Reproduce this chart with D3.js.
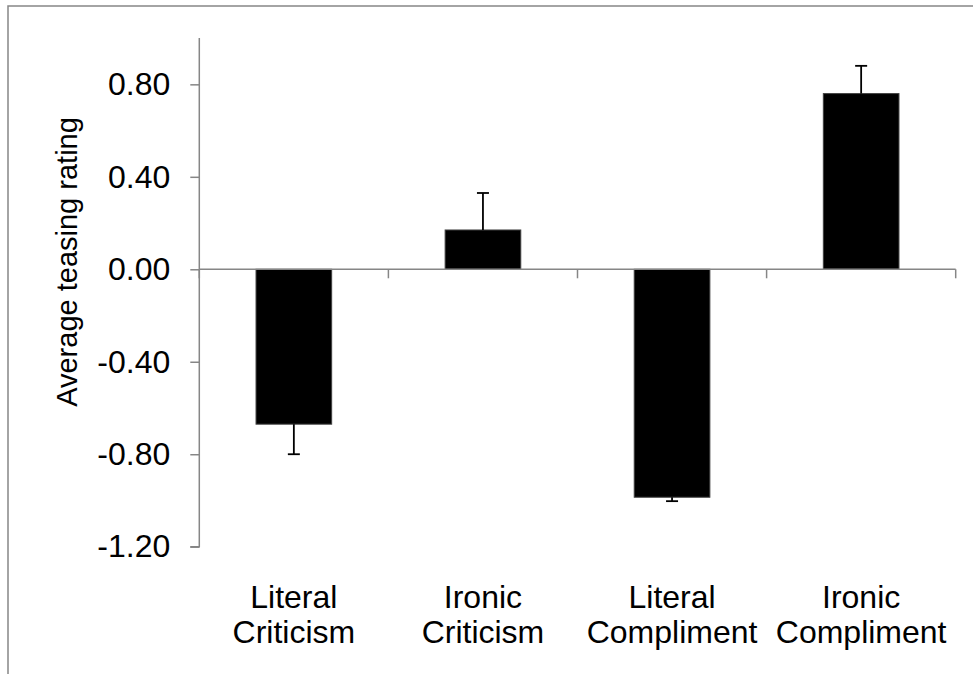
<!DOCTYPE html>
<html>
<head>
<meta charset="utf-8">
<script src="https://cdn.jsdelivr.net/npm/d3@7/dist/d3.min.js"></script>
<style>
  html, body { margin: 0; padding: 0; background: #fff; }
  svg { display: block; }
  text { font-family: "Liberation Sans", Arial, sans-serif; fill: #000; }
</style>
</head>
<body>
<svg id="chart" width="973" height="674"></svg>
<script>
const categories = [["Literal", "Criticism"], ["Ironic", "Criticism"], ["Literal", "Compliment"], ["Ironic", "Compliment"]];
const values = [-0.67, 0.17, -0.986, 0.76];
const errors = [0.13, 0.16, 0.017, 0.12];
const yTicks = [-1.2, -0.8, -0.4, 0, 0.4, 0.8];
const yTitle = "Average teasing rating";

const svg = d3.select("#chart");
const axisColor = "#868686";
const fontSize = 32;

// chart area border (cropped at right/bottom)
svg.append("rect").attr("x", 8).attr("y", 6).attr("width", 1000).attr("height", 1000)
  .attr("fill", "none").attr("stroke", axisColor).attr("stroke-width", 1.5);

const left = 199.3, right = 955.7;
const y = d3.scaleLinear().domain([-1.2, 1.0]).range([546.7, 38.1]);
const keys = categories.map(c => c.join(" "));
const xCat = d3.scaleBand().domain(keys).range([left, right]).padding(0);
const xBar = d3.scaleBand().domain(keys).range([left, right]).paddingInner(0.6).paddingOuter(0.3);

// Y axis
const fmt = d3.format(".2f");
const yAxis = d3.axisLeft(y).tickValues(yTicks).tickSize(9).tickPadding(20)
  .tickFormat(d => fmt(d).replace("\u2212", "-"));
const gy = svg.append("g").attr("transform", `translate(${left},0)`).call(yAxis);
gy.select(".domain").attr("stroke", axisColor).attr("stroke-width", 1.5)
  .attr("d", `M-9,${y(-1.2)}H0V${y(1.0)}`);
gy.selectAll(".tick line").attr("stroke", axisColor).attr("stroke-width", 1.5);
gy.selectAll(".tick text").attr("font-size", fontSize).attr("font-family", "Liberation Sans, Arial, sans-serif").attr("fill", "#000");

// bars
const data = keys.map((k, i) => ({ k, v: values[i], e: errors[i] }));
svg.append("g").selectAll("rect").data(data).join("rect")
  .attr("x", d => xBar(d.k))
  .attr("width", xBar.bandwidth())
  .attr("y", d => y(Math.max(0, d.v)))
  .attr("height", d => Math.abs(y(d.v) - y(0)))
  .attr("fill", "#000").attr("stroke", "#404040").attr("stroke-width", 1);

// error bars (one-sided, away from zero)
const eg = svg.append("g").attr("stroke", "#000").attr("stroke-width", 1.8);
data.forEach(d => {
  const cx = xBar(d.k) + xBar.bandwidth() / 2;
  const end = d.v >= 0 ? d.v + d.e : d.v - d.e;
  eg.append("line").attr("x1", cx).attr("x2", cx).attr("y1", y(d.v)).attr("y2", y(end));
  eg.append("line").attr("x1", cx - 6).attr("x2", cx + 6).attr("y1", y(end)).attr("y2", y(end));
});

// X axis at zero
const gx = svg.append("g");
gx.append("line").attr("x1", left).attr("x2", right).attr("y1", y(0)).attr("y2", y(0))
  .attr("stroke", axisColor).attr("stroke-width", 1.5);
const bounds = keys.map(k => xCat(k)).concat([right]);
gx.selectAll("line.t").data(bounds).join("line").attr("class", "t")
  .attr("x1", d => d).attr("x2", d => d).attr("y1", y(0)).attr("y2", y(0) + 9)
  .attr("stroke", axisColor).attr("stroke-width", 1.5);

// category labels
const lg = svg.append("g");
categories.forEach((c, i) => {
  const cx = xCat(keys[i]) + xCat.bandwidth() / 2;
  const t = lg.append("text").attr("text-anchor", "middle").attr("font-size", fontSize);
  t.append("tspan").attr("x", cx).attr("y", 608).text(c[0]);
  t.append("tspan").attr("x", cx).attr("y", 643).text(c[1]);
});

// y title
svg.append("text").attr("transform", "translate(77,262) rotate(-90)")
  .attr("text-anchor", "middle").attr("font-size", 29).text(yTitle);
</script>
</body>
</html>
